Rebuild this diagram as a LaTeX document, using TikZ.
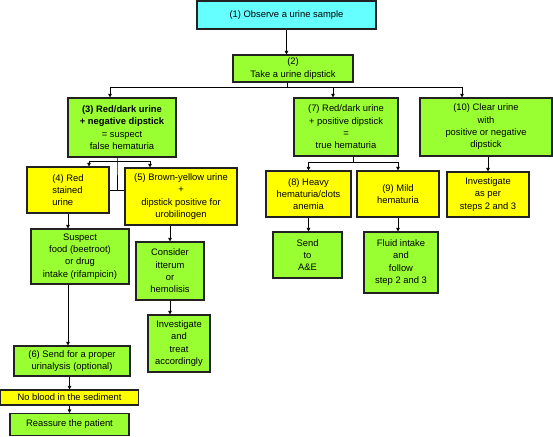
\documentclass[tikz,border=0pt]{standalone}
\usepackage{fontspec}
\setmainfont{Liberation Sans}
\usetikzlibrary{arrows.meta}
\definecolor{bgreen}{HTML}{99FF33}
\definecolor{byellow}{HTML}{FFFF00}
\definecolor{bcyan}{HTML}{66FFFF}
\definecolor{bborder}{HTML}{222222}
\tikzset{
  box/.style={draw=bborder, line width=1.2pt, inner sep=0pt, align=center,
    font=\fontsize{9.4}{12.3}\selectfont},
  gbox/.style={box, fill=bgreen},
  ybox/.style={box, fill=byellow},
  cbox/.style={box, fill=bcyan},
  link/.style={draw=black, line width=0.8pt},
  arr/.style={link, -{Triangle[length=3.5pt,width=3.6pt]}}
}
\begin{document}
\begin{tikzpicture}[x=1pt,y=-1pt]
\useasboundingbox (0,0) rectangle (553,436);
% nodes
\node[cbox, minimum width=179pt, minimum height=28pt] (n1) at (286.5,15) {(1) Observe a urine sample};
\node[gbox, minimum width=120pt, minimum height=27pt] (n2) at (293,68.5) {(2)\\Take a urine dipstick};
\node[gbox, minimum width=108pt, minimum height=59pt] (n3) at (122,127.5) {\textbf{(3) Red/dark urine}\\\textbf{+ negative dipstick}\\= suspect\\false hematuria};
\node[gbox, minimum width=104pt, minimum height=58pt] (n7) at (346,127) {(7) Red/dark urine\\+ positive dipstick\\=\\true hematuria};
\node[gbox, minimum width=132pt, minimum height=58pt] (n10) at (486,127) {(10) Clear urine\\with\\positive or negative\\dipstick};
\node[ybox, minimum width=82pt, minimum height=46pt, align=left] (n4) at (68,190) {(4) Red\\stained\\urine};
\node[ybox, minimum width=112pt, minimum height=57pt] (n5) at (181,196.5) {(5) Brown-yellow urine\\+\\dipstick positive for\\urobilinogen};
\node[ybox, minimum width=85pt, minimum height=46pt] (n8) at (308.5,194) {(8) Heavy\\hematuria/clots\\anemia};
\node[ybox, minimum width=82pt, minimum height=46pt] (n9) at (398,194) {(9) Mild\\hematuria};
\node[ybox, minimum width=82pt, minimum height=45pt] (n10b) at (488,194.5) {Investigate\\as per\\steps 2 and 3};
\node[gbox, minimum width=98pt, minimum height=55pt] (ns) at (80,256.5) {Suspect\\food (beetroot)\\or drug\\intake (rifampicin)};
\node[gbox, minimum width=68pt, minimum height=58pt] (nc) at (170,271) {Consider\\itterum\\or\\hemolisis};
\node[gbox, minimum width=62pt, minimum height=57pt] (ni) at (179,343.5) {Investigate\\and\\treat\\accordingly};
\node[gbox, minimum width=69pt, minimum height=46pt] (nae) at (307.5,255) {Send\\to\\A\&E};
\node[gbox, minimum width=74pt, minimum height=61pt] (nf) at (401,262.5) {Fluid intake\\and\\follow\\step 2 and 3};
\node[gbox, minimum width=116pt, minimum height=30pt] (n6) at (72,361) {(6) Send for a proper\\urinalysis (optional)};
\node[ybox, minimum width=138pt, minimum height=15pt] (nb) at (69.5,397.5) {No blood in the sediment};
\node[gbox, minimum width=119pt, minimum height=22pt] (nr) at (69.5,424.5) {Reassure the patient};
% junction coordinates
\coordinate (j2) at (287,87);
\coordinate (j3) at (117,161);
\coordinate (j7) at (353,162);
% connectors
\draw[arr] (n1.south) -- (n1.south |- n2.north);
\draw[link] (n2.south -| j2) -- (j2);
\draw[arr] (j2) -| ([xshift=-12pt]n3.north);
\draw[arr] (j2) -| ([xshift=-13pt]n7.north);
\draw[arr] (j2) -| ([xshift=-24pt]n10.north);
% from (3)
\draw[link] (n3.south -| j3) -- (j3) -- (j3 |- n4.east);
\draw[arr] (j3) -| ([xshift=21pt]n4.north);
\draw[arr] (j3) -| ([xshift=-31pt]n5.north);
\draw[link] (n4.east) -- (n4.east -| n5.west);
\draw[arr] (n4.south) -- (n4.south |- ns.north);
\draw[arr] (n5.south -| nc.north) -- (nc.north);
\draw[arr] (nc.south) -- (nc.south |- ni.north);
\draw[arr] ([xshift=-12pt]ns.south) -- ([xshift=-12pt]ns.south |- n6.north);
\draw[arr] (n6.south -| nb.north) -- (nb.north);
\draw[arr] (nb.south) -- (nb.south |- nr.north);
% from (7)
\draw[link] (n7.south -| j7) -- (j7);
\draw[arr] (j7) -| (n8.north);
\draw[arr] (j7) -| (n9.north);
\draw[arr] (n8.south) -- (n8.south |- nae.north);
\draw[arr] (n9.south) -- (n9.south |- nf.north);
% from (10)
\draw[arr] (n10.south -| n10b.north) -- (n10b.north);
\end{tikzpicture}
\end{document}
